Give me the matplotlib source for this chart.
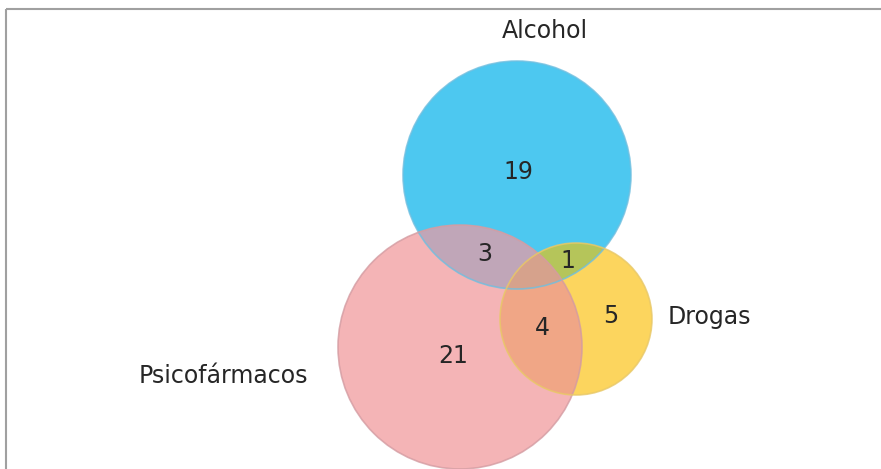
import matplotlib
matplotlib.use('Agg')
import matplotlib.pyplot as plt
import numpy as np
from matplotlib.patches import Circle, Polygon

# set labels and region counts
set_names = ['Alcohol', 'Psicofármacos', 'Drogas']
only_counts = [19, 21, 5]
pair_counts = [3, 1, 4]   # A&P, A&D, P&D

# layout (pixel coordinates)
centers = [(517, 175), (460, 347), (576, 319)]
radii = [114, 122, 76]
fills = ['#4DC8F0', '#F4B4B6', '#FCD55E']
edges = ['#6FBFE0', '#D49CA2', '#E8C868']
pairs = [(0, 1), (0, 2), (1, 2)]
pair_fill = ['#C0A6B8', '#B5C55A', '#F0A686']
triple_fill = '#D6A28C'

name_pos = [(545, 31), (223, 376), (709, 317)]
only_pos = [(518, 172), (453, 356), (611, 316)]
pair_pos = [(485, 254), (568, 261), (542, 328)]


def region(ids):
  # convex intersection of circles, built from boundary samples
  t = np.linspace(0, 2*np.pi, 1440, endpoint=False)
  pts = []
  for k in ids:
    cx, cy = centers[k]
    x = cx + radii[k]*np.cos(t)
    y = cy + radii[k]*np.sin(t)
    ok = np.ones_like(x, dtype=bool)
    for m in ids:
      if m == k:
        continue
      mx, my = centers[m]
      ok &= (x-mx)**2 + (y-my)**2 <= radii[m]**2
    pts.append(np.column_stack([x[ok], y[ok]]))
  pts = np.vstack(pts)
  c = pts.mean(axis=0)
  order = np.argsort(np.arctan2(pts[:, 1]-c[1], pts[:, 0]-c[0]))
  return pts[order]


def main():
  fig = plt.figure(figsize=(8.81, 4.69), dpi=100)
  ax = fig.add_axes([0, 0, 1, 1])
  ax.set_xlim(0, 881)
  ax.set_ylim(469, 0)
  ax.axis('off')

  # frame lines (top and left only)
  ax.plot([6, 881], [9, 9], color='#A0A0A0', lw=1.5, solid_capstyle='butt')
  ax.plot([6, 6], [9, 469], color='#A0A0A0', lw=1.5, solid_capstyle='butt')

  for c, r, f in zip(centers, radii, fills):
    ax.add_patch(Circle(c, r, facecolor=f, edgecolor='none', zorder=2))

  for (i, j), col in zip(pairs, pair_fill):
    ax.add_patch(Polygon(region([i, j]), closed=True, facecolor=col,
                         edgecolor='none', zorder=3))

  ax.add_patch(Polygon(region([0, 1, 2]), closed=True, facecolor=triple_fill,
                       edgecolor='none', zorder=4))

  # soft edges
  for c, r, e in zip(centers, radii, edges):
    ax.add_patch(Circle(c, r, facecolor='none', edgecolor=e, lw=1.2, alpha=0.8, zorder=5))

  txt = dict(fontsize=17, color='#262626', ha='center', va='center', zorder=6)
  for name, pos in zip(set_names, name_pos):
    ax.text(pos[0], pos[1], name, **txt)
  for n, pos in zip(only_counts, only_pos):
    ax.text(pos[0], pos[1], str(n), **txt)
  for n, pos in zip(pair_counts, pair_pos):
    ax.text(pos[0], pos[1], str(n), **txt)

  fig.savefig('out.png', dpi=100)


if __name__ == '__main__':
  main()
